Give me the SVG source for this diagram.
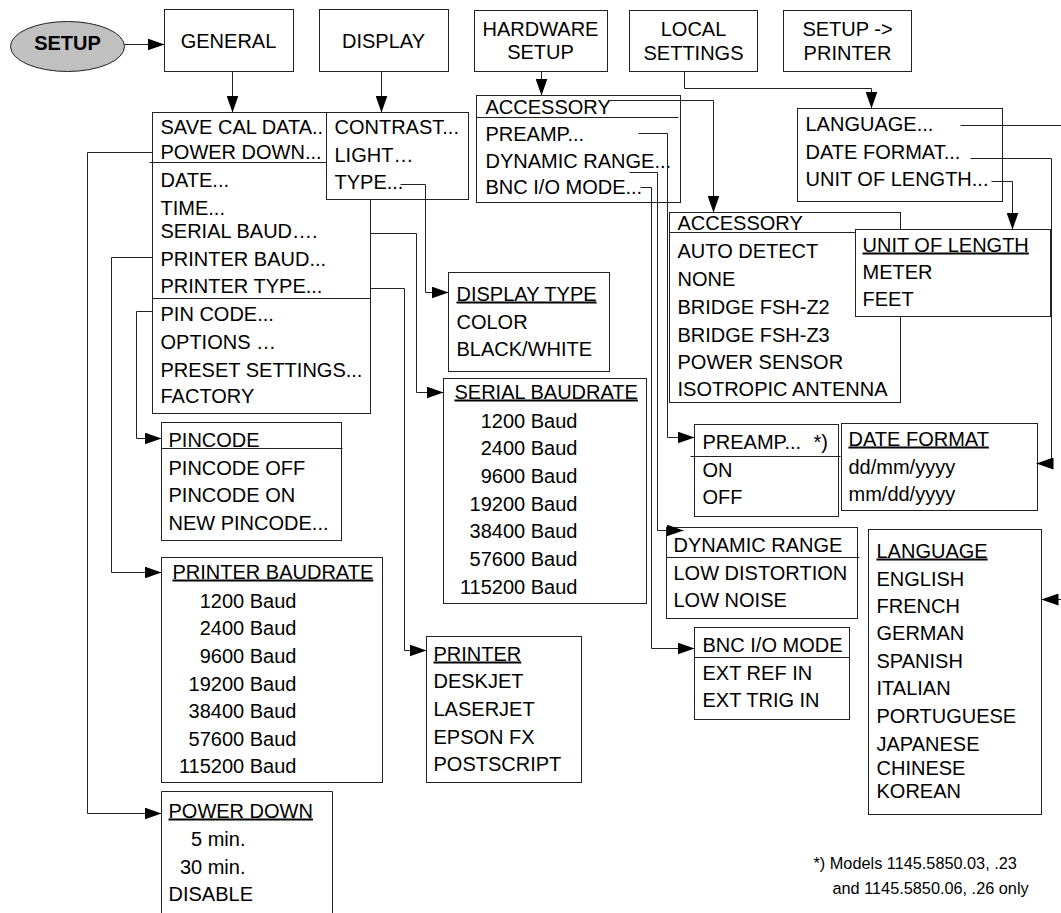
<svg xmlns="http://www.w3.org/2000/svg" width="1061" height="913" viewBox="0 0 1061 913">
<style>
.t{font-family:"Liberation Sans",Arial,sans-serif;font-size:20px;fill:#000}
.b{fill:#fff;stroke:#222;stroke-width:1}
.c{fill:none;stroke:#222;stroke-width:1}
.a{marker-end:url(#ah)}
.u{text-decoration:underline}
.e{text-anchor:end}
.m{text-anchor:middle}
.f{font-size:16.3px}
</style>
<defs>
<marker id="ah" markerUnits="userSpaceOnUse" markerWidth="17" markerHeight="12" refX="17" refY="6" orient="auto">
<path d="M0,0 L17,6 L0,12 Z" fill="#000"/>
</marker>
</defs>
<rect x="0" y="0" width="1061" height="913" fill="#fff"/>
<g transform="translate(0.5 0.5)">
<g id="setup">
<ellipse cx="67" cy="46" rx="57" ry="25" fill="#c0c0c0" stroke="#222"/>
<text class="t m" x="67" y="49" font-weight="bold">SETUP</text>
</g>
<g id="general">
<rect class="b" x="164" y="9" width="129" height="62"/>
<text class="t m" x="228" y="47">GENERAL</text>
</g>
<g id="display">
<rect class="b" x="319" y="9" width="129" height="62"/>
<text class="t m" x="383" y="47">DISPLAY</text>
</g>
<g id="hardware">
<rect class="b" x="474" y="10" width="133" height="61"/>
<text class="t m" x="540" y="35">HARDWARE</text>
<text class="t m" x="540" y="58">SETUP</text>
</g>
<g id="local">
<rect class="b" x="629" y="10" width="128" height="61"/>
<text class="t m" x="693" y="35">LOCAL</text>
<text class="t m" x="693" y="59">SETTINGS</text>
</g>
<g id="setupprinter">
<rect class="b" x="783" y="10" width="128" height="61"/>
<text class="t m" x="847" y="35">SETUP -&gt;</text>
<text class="t m" x="847" y="59">PRINTER</text>
</g>
<g id="general-menu">
<rect class="b" x="152" y="112" width="218" height="301"/>
<line class="c" x1="149" y1="162" x2="326" y2="162"/>
<line class="c" x1="152" y1="298" x2="370" y2="298"/>
<text class="t" x="160" y="133">SAVE CAL DATA..</text>
<text class="t" x="160" y="158">POWER DOWN...</text>
<text class="t" x="160" y="186">DATE...</text>
<text class="t" x="160" y="214">TIME...</text>
<text class="t" x="160" y="237">SERIAL BAUD….</text>
<text class="t" x="160" y="265">PRINTER BAUD...</text>
<text class="t" x="160" y="292">PRINTER TYPE...</text>
<text class="t" x="160" y="320">PIN CODE...</text>
<text class="t" x="160" y="348">OPTIONS …</text>
<text class="t" x="160" y="376">PRESET SETTINGS...</text>
<text class="t" x="160" y="402">FACTORY</text>
</g>
<g id="display-menu">
<rect class="b" x="326" y="112" width="142" height="87"/>
<text class="t" x="334" y="133">CONTRAST...</text>
<text class="t" x="334" y="161">LIGHT…</text>
<text class="t" x="334" y="188">TYPE...</text>
</g>
<g id="hardware-menu">
<rect class="b" x="476" y="95" width="204" height="107"/>
<line class="c" x1="476" y1="117" x2="678" y2="117"/>
<text class="t" x="485" y="113">ACCESSORY</text>
<text class="t" x="485" y="140">PREAMP...</text>
<text class="t" x="485" y="167">DYNAMIC RANGE...</text>
<text class="t" x="485" y="193">BNC I/O MODE...</text>
</g>
<g id="local-menu">
<rect class="b" x="797" y="108" width="205" height="93"/>
<text class="t" x="805" y="130">LANGUAGE...</text>
<text class="t" x="805" y="158">DATE FORMAT...</text>
<text class="t" x="805" y="185">UNIT OF LENGTH...</text>
</g>
<g id="display-type">
<rect class="b" x="448" y="272" width="161" height="99"/>
<text class="t u" x="456" y="300">DISPLAY TYPE</text>
<text class="t" x="456" y="328">COLOR</text>
<text class="t" x="456" y="355">BLACK/WHITE</text>
</g>
<g id="serial-baudrate">
<rect class="b" x="443" y="378" width="203" height="225"/>
<text class="t u" x="454" y="398">SERIAL BAUDRATE</text>
<text class="t e" x="577" y="427">1200 Baud</text>
<text class="t e" x="577" y="454">2400 Baud</text>
<text class="t e" x="577" y="482">9600 Baud</text>
<text class="t e" x="577" y="510">19200 Baud</text>
<text class="t e" x="577" y="537">38400 Baud</text>
<text class="t e" x="577" y="565">57600 Baud</text>
<text class="t e" x="577" y="593">115200 Baud</text>
</g>
<g id="pincode">
<rect class="b" x="161" y="422" width="180" height="118"/>
<line class="c" x1="161" y1="448" x2="342" y2="448"/>
<text class="t" x="168" y="446">PINCODE</text>
<text class="t" x="168" y="474">PINCODE OFF</text>
<text class="t" x="168" y="501">PINCODE ON</text>
<text class="t" x="168" y="529">NEW PINCODE...</text>
</g>
<g id="printer-baudrate">
<rect class="b" x="161" y="557" width="221" height="225"/>
<text class="t u" x="172" y="578">PRINTER BAUDRATE</text>
<text class="t e" x="296" y="607">1200 Baud</text>
<text class="t e" x="296" y="634">2400 Baud</text>
<text class="t e" x="296" y="662">9600 Baud</text>
<text class="t e" x="296" y="690">19200 Baud</text>
<text class="t e" x="296" y="717">38400 Baud</text>
<text class="t e" x="296" y="745">57600 Baud</text>
<text class="t e" x="296" y="772">115200 Baud</text>
</g>
<g id="printer">
<rect class="b" x="426" y="636" width="155" height="146"/>
<text class="t u" x="433" y="660">PRINTER</text>
<text class="t" x="433" y="687">DESKJET</text>
<text class="t" x="433" y="715">LASERJET</text>
<text class="t" x="433" y="743">EPSON FX</text>
<text class="t" x="433" y="770">POSTSCRIPT</text>
</g>
<g id="power-down">
<path class="b" d="M161,925 V791 H332 V925"/>
<text class="t u" x="168" y="817">POWER DOWN</text>
<text class="t e" x="245" y="845">5 min.</text>
<text class="t e" x="245" y="873">30 min.</text>
<text class="t" x="168" y="900">DISABLE</text>
</g>
<g id="accessory">
<rect class="b" x="669" y="212" width="231" height="190"/>
<line class="c" x1="669" y1="232" x2="855" y2="232"/>
<text class="t" x="677" y="229">ACCESSORY</text>
<text class="t" x="677" y="257">AUTO DETECT</text>
<text class="t" x="677" y="285">NONE</text>
<text class="t" x="677" y="313">BRIDGE FSH-Z2</text>
<text class="t" x="677" y="341">BRIDGE FSH-Z3</text>
<text class="t" x="677" y="368">POWER SENSOR</text>
<text class="t" x="677" y="395">ISOTROPIC ANTENNA</text>
</g>
<g id="unit-of-length">
<rect class="b" x="855" y="229" width="195" height="87"/>
<text class="t u" x="862" y="251">UNIT OF LENGTH</text>
<text class="t" x="862" y="278">METER</text>
<text class="t" x="862" y="305">FEET</text>
</g>
<g id="preamp">
<rect class="b" x="694" y="424" width="144" height="92"/>
<line class="c" x1="690" y1="456" x2="840" y2="456"/>
<text class="t" x="702" y="448">PREAMP...</text>
<text class="t" x="813" y="448">*)</text>
<text class="t" x="702" y="476">ON</text>
<text class="t" x="702" y="503">OFF</text>
</g>
<g id="date-format">
<rect class="b" x="841" y="423" width="196" height="87"/>
<text class="t u" x="848" y="445">DATE FORMAT</text>
<text class="t" x="848" y="473">dd/mm/yyyy</text>
<text class="t" x="848" y="500">mm/dd/yyyy</text>
</g>
<g id="dynamic-range">
<rect class="b" x="666" y="527" width="191" height="91"/>
<line class="c" x1="666" y1="557" x2="859" y2="557"/>
<text class="t" x="673" y="551">DYNAMIC RANGE</text>
<text class="t" x="673" y="579">LOW DISTORTION</text>
<text class="t" x="673" y="606">LOW NOISE</text>
</g>
<g id="bnc">
<rect class="b" x="694" y="627" width="155" height="92"/>
<line class="c" x1="694" y1="657" x2="849" y2="657"/>
<text class="t" x="702" y="651">BNC I/O MODE</text>
<text class="t" x="702" y="679">EXT REF IN</text>
<text class="t" x="702" y="706">EXT TRIG IN</text>
</g>
<g id="language">
<rect class="b" x="868" y="529" width="173" height="285"/>
<text class="t u" x="876" y="557">LANGUAGE</text>
<text class="t" x="876" y="585">ENGLISH</text>
<text class="t" x="876" y="612">FRENCH</text>
<text class="t" x="876" y="639">GERMAN</text>
<text class="t" x="876" y="667">SPANISH</text>
<text class="t" x="876" y="694">ITALIAN</text>
<text class="t" x="876" y="722">PORTUGUESE</text>
<text class="t" x="876" y="750">JAPANESE</text>
<text class="t" x="876" y="774">CHINESE</text>
<text class="t" x="876" y="797">KOREAN</text>
</g>
<g id="footnote">
<text class="t f" x="813" y="868">*) Models 1145.5850.03, .23</text>
<text class="t f" x="832" y="893">and 1145.5850.06, .26 only</text>
</g>
<g id="connectors">
<path class="c a" d="M124,44 H164"/>
<path class="c a" d="M232,71 V112"/>
<path class="c a" d="M381,71 V112"/>
<path class="c a" d="M541,71 V95"/>
<path class="c a" d="M684,71 V88 H871 V108"/>
<path class="c a" d="M609,100 H713 V212"/>
<path class="c a" d="M638,133 H667 V437 H694"/>
<path class="c a" d="M629,172 H657 V530 H683"/>
<path class="c a" d="M640,187 H651 V648 H694"/>
<path class="c a" d="M960,125 H1066 V599 H1041"/>
<path class="c a" d="M970,158 H1051 V463 H1036"/>
<path class="c a" d="M991,181 H1012 V229"/>
<path class="c a" d="M400,184 H425 V292 H448"/>
<path class="c a" d="M370,233 H416 V392 H443"/>
<path class="c a" d="M370,288 H404 V650 H426"/>
<path class="c a" d="M152,152 H87 V813 H161"/>
<path class="c a" d="M152,257 H111 V572 H161"/>
<path class="c a" d="M152,311 H136 V438 H161"/>
</g>
</g>
</svg>
